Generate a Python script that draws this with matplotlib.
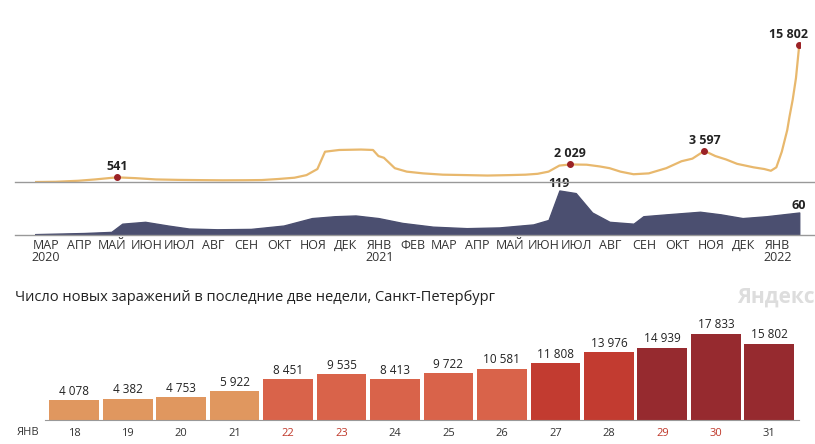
import numpy as np
import pandas as pd
import matplotlib
matplotlib.use("Agg")
import matplotlib.pyplot as plt

plt.rcParams['font.family'] = ['Open Sans', 'DejaVu Sans']

# daily new cases, read roughly every half month
case_dates = ["2020-03-01", "2020-03-20", "2020-04-10", "2020-04-25", "2020-05-15", "2020-06-01",
              "2020-06-20", "2020-07-10", "2020-08-01", "2020-08-20", "2020-09-10", "2020-09-25",
              "2020-10-10", "2020-10-25", "2020-11-05", "2020-11-15", "2020-11-22", "2020-12-05",
              "2020-12-25", "2021-01-05", "2021-01-10", "2021-01-15", "2021-01-25", "2021-02-05",
              "2021-02-20", "2021-03-10", "2021-04-01", "2021-04-20", "2021-05-10", "2021-05-25",
              "2021-06-05", "2021-06-15", "2021-06-25", "2021-07-05", "2021-07-20", "2021-08-01",
              "2021-08-10", "2021-08-20", "2021-09-01", "2021-09-15", "2021-10-01", "2021-10-15",
              "2021-10-25", "2021-11-05", "2021-11-15", "2021-11-25", "2021-12-05", "2021-12-20",
              "2021-12-30", "2022-01-05", "2022-01-10", "2022-01-15", "2022-01-20", "2022-01-22",
              "2022-01-25", "2022-01-28", "2022-01-31"]
cases = [0, 30, 150, 300, 541, 450, 300, 250, 220, 200, 210, 230,
         350, 500, 800, 1500, 3500, 3700, 3750, 3700, 3000, 2800, 1600, 1200,
         1000, 850, 800, 750, 800, 850, 950, 1200, 1900, 2029, 2000, 1800,
         1600, 1200, 900, 1000, 1600, 2400, 2700, 3597, 3000, 2600, 2100, 1700,
         1500, 1300, 1700, 3500, 6000, 7500, 9500, 12000, 15802]

death_dates = ["2020-03-01", "2020-04-15", "2020-05-10", "2020-05-20", "2020-06-10", "2020-07-01",
               "2020-07-20", "2020-08-15", "2020-09-15", "2020-10-15", "2020-11-10", "2020-12-01",
               "2020-12-20", "2021-01-10", "2021-02-01", "2021-03-01", "2021-04-01", "2021-05-01",
               "2021-06-01", "2021-06-15", "2021-06-25", "2021-07-10", "2021-07-25", "2021-08-10",
               "2021-09-01", "2021-09-10", "2021-10-01", "2021-11-01", "2021-11-20", "2021-12-10",
               "2022-01-01", "2022-01-31"]
deaths = [2, 5, 8, 30, 35, 25, 17, 15, 16, 25, 45, 50,
          52, 45, 32, 22, 18, 20, 28, 40, 119, 112, 60, 35,
          30, 50, 55, 62, 55, 45, 50, 60]

# two week bar chart
days = ["18", "19", "20", "21", "22", "23", "24", "25", "26", "27", "28", "29", "30", "31"]
week_cases = [4078, 4382, 4753, 5922, 8451, 9535, 8413, 9722, 10581, 11808, 13976, 14939, 17833, 15802]
weekend_days = ["22", "23", "29", "30"]

months = ["МАР\n2020", "АПР", "МАЙ", "ИЮН", "ИЮЛ", "АВГ", "СЕН", "ОКТ", "НОЯ", "ДЕК", "ЯНВ\n2021",
          "ФЕВ", "МАР", "АПР", "МАЙ", "ИЮН", "ИЮЛ", "АВГ", "СЕН", "ОКТ", "НОЯ", "ДЕК", "ЯНВ\n2022"]

cd = pd.to_datetime(case_dates)
dd = pd.to_datetime(death_dates)
x0, x1 = pd.Timestamp("2020-03-01"), pd.Timestamp("2022-02-01")

fig = plt.figure(figsize=(8.15, 4.44), dpi=100)
fig.patch.set_facecolor("white")

# top line
ax = fig.add_axes([0.043, 0.59, 0.939, 0.365])
ax.plot(cd, cases, color="#e8b86d", lw=1.6)
ax.set_xlim(x0, x1)
ax.set_ylim(0, 18700)
ax.axis("off")
for d, v in [("2020-05-15", 541), ("2021-07-05", 2029), ("2021-11-05", 3597), ("2022-01-31", 15802)]:
    t = pd.Timestamp(d)
    ax.plot(t, v, "o", color="#9b2226", ms=4)
    lbl = f"{v:,}".replace(",", " ")
    ha = "right" if v == 15802 else "center"
    ax.text(t + pd.Timedelta(days=8 if v == 15802 else 0), v + 500, lbl, ha=ha, va="bottom",
            fontsize=9, fontweight="bold", color="#222")
fig.add_artist(plt.Line2D([0.018, 1.0], [0.59, 0.59], color="#999", lw=1))

# deaths area
ax2 = fig.add_axes([0.043, 0.471, 0.939, 0.105])
ax2.fill_between(dd, deaths, color="#4b4f70")
ax2.set_xlim(x0, x1)
ax2.set_ylim(0, 125)
ax2.axis("off")
ax2.text(pd.Timestamp("2021-06-25"), 121, "119", ha="center", va="bottom", fontsize=9, fontweight="bold", color="#222")
ax2.text(pd.Timestamp("2022-01-31"), 62, "60", ha="center", va="bottom", fontsize=9, fontweight="bold", color="#222")
fig.add_artist(plt.Line2D([0.018, 1.0], [0.471, 0.471], color="#999", lw=1))

mpos = pd.date_range("2020-03-01", periods=len(months), freq="MS") + pd.Timedelta(days=10)
for t, m in zip(mpos, months):
    ax2.text(t, -10, m, ha="center", va="top", fontsize=9, color="#333", linespacing=0.9)

# bar chart
fig.text(0.018, 0.33, "Число новых заражений в последние две недели, Санкт-Петербург",
         fontsize=10.5, color="#222", va="center")
fig.text(1.0, 0.33, "Яндекс", fontsize=15, color="#dddddd", ha="right", va="center", fontweight="bold")

ax3 = fig.add_axes([0.055, 0.054, 0.925, 0.2])
colors = ["#e0975f"] * 4 + ["#d9634a"] * 5 + ["#c23b30"] * 2 + ["#962a2f"] * 3
xs = np.arange(len(days))
ax3.bar(xs, week_cases, width=0.93, color=colors)
for x, v in zip(xs, week_cases):
    ax3.text(x, v + 500, f"{v:,}".replace(",", " "), ha="center", va="bottom", fontsize=8.5, color="#222")
ax3.set_xlim(-0.55, len(days) - 0.45)
ax3.set_ylim(0, 17833 * 1.03)
ax3.set_yticks([])
ax3.set_xticks(xs)
ax3.set_xticklabels(days, fontsize=8)
for lab in ax3.get_xticklabels():
    lab.set_color("#c0392b" if lab.get_text() in weekend_days else "#333")
ax3.tick_params(axis="x", length=0, pad=6)
for s in ["top", "right", "left"]:
    ax3.spines[s].set_visible(False)
ax3.spines["bottom"].set_color("#999")
fig.text(0.02, 0.027, "ЯНВ", fontsize=8, color="#333", va="center")

fig.savefig("out.png", dpi=100)
